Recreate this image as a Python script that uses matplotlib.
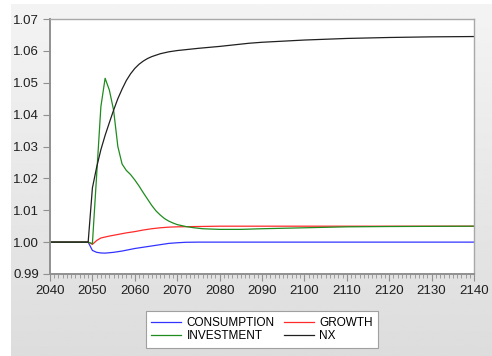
import numpy as np
import matplotlib
matplotlib.use("Agg")
import matplotlib.pyplot as plt
from matplotlib.ticker import MultipleLocator

plt.rcParams['font.family'] = ['Liberation Sans', 'DejaVu Sans']

# values
cons_years = [2040, 2049, 2050, 2051, 2052, 2053, 2055, 2057, 2060, 2062, 2064, 2066, 2068, 2070, 2072, 2075, 2140]
cons_vals = [1.0, 1.0, 0.9974, 0.9968, 0.9966, 0.99655, 0.9968, 0.9972, 0.9980, 0.9984, 0.9988, 0.9992, 0.9996, 0.9998, 0.99995, 1.0, 1.0]

growth_years = [2040, 2049, 2050, 2051, 2052, 2054, 2056, 2058, 2060, 2062, 2064, 2066, 2068, 2070, 2075, 2080, 2140]
growth_vals = [1.0, 1.0, 0.9993, 1.0005, 1.0013, 1.0019, 1.0024, 1.0029, 1.0033, 1.0038, 1.0042, 1.0045, 1.0047, 1.0048, 1.0049, 1.005, 1.005]

inv_years = [2040, 2049, 2050, 2051, 2052, 2053, 2054, 2055, 2056, 2057, 2058, 2059, 2060, 2061, 2062, 2063, 2064,
             2065, 2066, 2067, 2068, 2069, 2070, 2072, 2074, 2076, 2080, 2085, 2090, 2100, 2110, 2120, 2140]
inv_vals = [1.0, 1.0, 0.9995, 1.021, 1.0425, 1.0514, 1.0477, 1.0414, 1.0300, 1.0245, 1.0225, 1.0212, 1.0195, 1.0176,
            1.0155, 1.0135, 1.0115, 1.0098, 1.0085, 1.0074, 1.0066, 1.0060, 1.0055, 1.0049, 1.0045, 1.0042, 1.0040,
            1.0040, 1.0042, 1.0045, 1.0048, 1.0049, 1.005]

nx_years = [2040, 2049, 2050, 2051, 2052, 2053, 2054, 2055, 2056, 2057, 2058, 2059, 2060, 2061, 2062, 2063, 2064,
            2066, 2068, 2070, 2075, 2080, 2087, 2090, 2100, 2110, 2120, 2130, 2140]
nx_vals = [1.0, 1.0, 1.017, 1.0235, 1.029, 1.0335, 1.0375, 1.0414, 1.045, 1.0480, 1.0507, 1.0528, 1.0545, 1.0558,
           1.0568, 1.0576, 1.0582, 1.0591, 1.0597, 1.0601, 1.0608, 1.0614, 1.0624, 1.0627, 1.0634, 1.0639, 1.0642,
           1.0644, 1.0645]

fig = plt.figure(figsize=(4.92, 3.56), dpi=100)
fig.patch.set_facecolor('white')

# gray gradient panel behind everything
bg = fig.add_axes([11 / 492, 0, 1 - 11 / 492, 1 - 4 / 356], zorder=-10)
grad = np.linspace(0.955, 0.865, 256).reshape(-1, 1)
bg.imshow(grad, aspect='auto', cmap='gray', vmin=0, vmax=1, extent=[0, 1, 0, 1])
bg.axis('off')

ax = fig.add_axes([50 / 492, 1 - 274 / 356, (474 - 50) / 492, (274 - 19) / 356])
ax.set_facecolor('white')

ax.plot(cons_years, cons_vals, color='#3333ff', lw=0.9, label='CONSUMPTION')
ax.plot(growth_years, growth_vals, color='#ff2a2a', lw=0.9, label='GROWTH')
ax.plot(inv_years, inv_vals, color='#1e8c1e', lw=0.9, label='INVESTMENT')
ax.plot(nx_years, nx_vals, color='#202020', lw=0.9, label='NX')

ax.set_xlim(2040, 2140)
ax.set_ylim(0.99, 1.07)
ax.xaxis.set_major_locator(MultipleLocator(10))
ax.xaxis.set_minor_locator(MultipleLocator(1))
ax.yaxis.set_major_locator(MultipleLocator(0.01))
ax.yaxis.set_major_formatter(matplotlib.ticker.FormatStrFormatter('%.2f'))
ax.tick_params(axis='both', which='major', direction='out', length=5, width=0.8,
               color='#909090', labelsize=9.5, labelcolor='#202020', pad=3)
ax.tick_params(axis='x', which='minor', direction='out', length=3, width=0.6, color='#909090')
for s in ['left', 'bottom']:
    ax.spines[s].set_color('#909090')
    ax.spines[s].set_linewidth(1.4)
for s in ['top', 'right']:
    ax.spines[s].set_color('#a8a8a8')
    ax.spines[s].set_linewidth(1.0)

handles, labels = ax.get_legend_handles_labels()
order = [0, 2, 1, 3]
leg = fig.legend([handles[i] for i in order], [labels[i] for i in order], ncol=2,
                 loc='center', bbox_to_anchor=(262 / 492, 1 - 329.5 / 356), fontsize=8.5,
                 frameon=True, fancybox=False, edgecolor='#a0a0a0', framealpha=1,
                 handlelength=2.55, handletextpad=0.45, columnspacing=0.8,
                 labelspacing=0.13, borderpad=0.45)
leg.get_frame().set_linewidth(0.8)

fig.savefig('out.png', dpi=100)
